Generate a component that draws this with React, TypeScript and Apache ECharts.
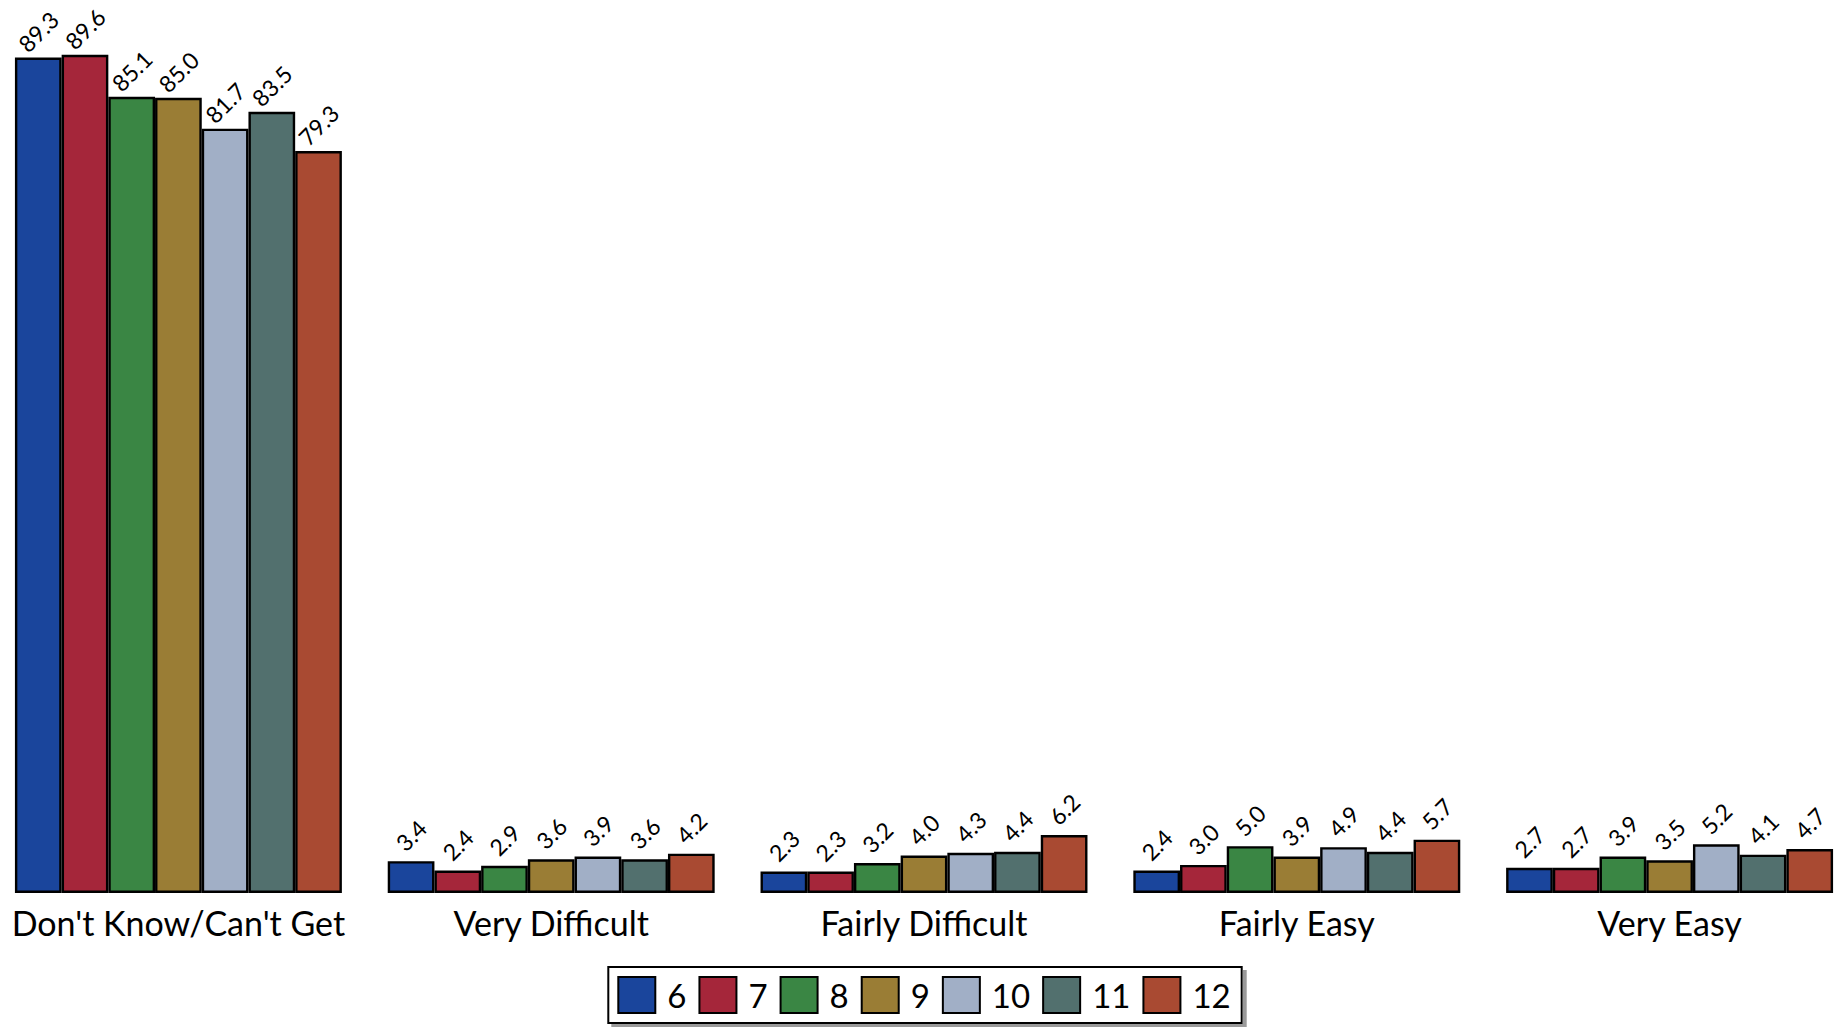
import React, { useEffect, useRef } from "react";
import * as echarts from "echarts";

const categories = ["Don't Know/Can't Get", "Very Difficult", "Fairly Difficult", "Fairly Easy", "Very Easy"];
const seriesNames = ["6", "7", "8", "9", "10", "11", "12"];
const colors = ["#1a459c", "#a5263a", "#3a8644", "#9a7d35", "#a1afc6", "#52706e", "#a94a32"];
// values per grade, across categories
const grade6 = [89.3, 3.4, 2.3, 2.4, 2.7];
const grade7 = [89.6, 2.4, 2.3, 3.0, 2.7];
const grade8 = [85.1, 2.9, 3.2, 5.0, 3.9];
const grade9 = [85.0, 3.6, 4.0, 3.9, 3.5];
const grade10 = [81.7, 3.9, 4.3, 4.9, 5.2];
const grade11 = [83.5, 3.6, 4.4, 4.4, 4.1];
const grade12 = [79.3, 4.2, 6.2, 5.7, 4.7];
const allValues = [grade6, grade7, grade8, grade9, grade10, grade11, grade12];

const FONT = "Lato, 'DejaVu Sans', sans-serif";

export default function App() {
  const ref = useRef<HTMLDivElement>(null);
  useEffect(() => {
    if (!ref.current) return;
    const chart = echarts.init(ref.current, null, { renderer: "svg" });
    chart.setOption({
      animation: false,
      backgroundColor: "#ffffff",
      textStyle: { fontFamily: FONT },
      grid: { left: 0, right: 0, top: 51, bottom: 134, containLabel: false },
      legend: {
        data: seriesNames,
        icon: "rect",
        bottom: 4,
        left: "center",
        itemWidth: 37,
        itemHeight: 36,
        itemGap: 12,
        padding: [9, 11, 9, 9],
        backgroundColor: "#ffffff",
        borderColor: "#000000",
        borderWidth: 2,
        shadowColor: "#9a9a9a",
        shadowOffsetX: 4,
        shadowOffsetY: 4,
        shadowBlur: 0,
        textStyle: { fontSize: 33, color: "#000", fontFamily: FONT, padding: [0, 0, 0, 7] },
        itemStyle: { borderColor: "#000", borderWidth: 2 },
      },
      xAxis: {
        type: "category",
        data: categories,
        axisLine: { show: false },
        axisTick: { show: false },
        axisLabel: { interval: 0, fontSize: 34, color: "#000", margin: 12, fontFamily: FONT },
      },
      yAxis: {
        type: "value",
        min: 0,
        max: 90,
        show: false,
        splitLine: { show: false },
      },
      series: seriesNames.map((name, i) => ({
        name,
        type: "bar",
        data: allValues[i],
        barGap: "0%",
        barCategoryGap: "12.3%",
        itemStyle: { color: colors[i], borderColor: "#000", borderWidth: 2.4 },
        label: {
          show: true,
          position: "top",
          distance: 26,
          rotate: 45,
          align: "center",
          verticalAlign: "middle",
          fontSize: 23,
          color: "#000",
          fontFamily: FONT,
          formatter: (p: any) => Number(p.value).toFixed(1),
        },
      })),
    });
    return () => chart.dispose();
  }, []);
  return (
    <div style={{ position: "absolute", left: 0, top: 0, width: 1844, height: 1027, overflow: "hidden" }}>
      <div ref={ref} style={{ position: "absolute", left: -8, top: 0, width: 1864, height: 1027 }} />
    </div>
  );
}
